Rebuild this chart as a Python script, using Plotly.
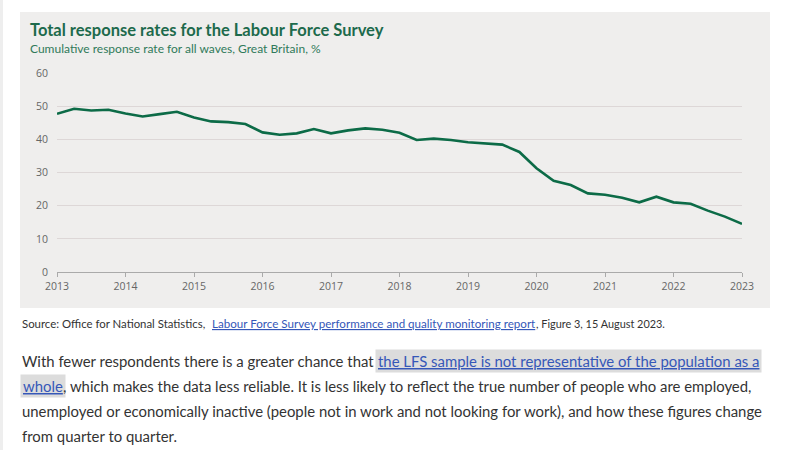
import plotly.graph_objects as go

# ---- data ----
quarters = [2013 + 0.25 * i for i in range(41)]
response_rate = [47.7, 49.2, 48.7, 48.9, 47.8, 46.9, 47.6, 48.3,
                 46.6, 45.4, 45.2, 44.6, 42.1, 41.4, 41.8, 43.1,
                 41.8, 42.7, 43.3, 42.9, 42.0, 39.8, 40.2, 39.8,
                 39.1, 38.7, 38.4, 36.2, 31.3, 27.5, 26.2, 23.7,
                 23.3, 22.4, 21.0, 22.7, 21.0, 20.6, 18.5, 16.7, 14.5]
year_ticks = list(range(2013, 2024))
y_ticks = [0, 10, 20, 30, 40, 50, 60]

W, H = 790, 450
L, R, T, B = 57, 742, 73, 272  # plot area in pixels

def px(x):
    return (x - L) / (R - L)

def py(y):
    return (B - y) / (B - T)

GREEN = "#0c6b47"
TITLE_GREEN = "#1d6a4c"
FONT = "Lato"

fig = go.Figure()
fig.add_trace(go.Scatter(x=quarters, y=response_rate, mode="lines",
                         line=dict(color=GREEN, width=2.6), hoverinfo="skip"))

fig.update_layout(
    width=W, height=H,
    margin=dict(l=L, r=W - R, t=T, b=H - B),
    paper_bgcolor="white", plot_bgcolor="#efeeed",
    showlegend=False,
    font=dict(family="Open Sans", color="#666"),
    xaxis=dict(range=[2013, 2023], tickvals=year_ticks, ticktext=[str(y) for y in year_ticks],
               showgrid=False, zeroline=False, showline=True, linecolor="#aaa", linewidth=1,
               ticks="outside", ticklen=4, tickcolor="#aaa", tickfont=dict(size=10.5, color="#666")),
    yaxis=dict(range=[0, 60], tickvals=y_ticks, showgrid=True, gridcolor="#ddd7d7", gridwidth=1,
               zeroline=False, showline=False, ticks="", ticklabelstandoff=8,
               tickfont=dict(size=10.5, color="#666")),
)

shapes = [
    # grey panel behind chart
    dict(type="rect", xref="paper", yref="paper", layer="below",
         x0=px(20), x1=px(770), y0=py(308), y1=py(12),
         fillcolor="#efeeed", line=dict(width=0)),
    # thin left strip
    dict(type="rect", xref="paper", yref="paper", layer="below",
         x0=px(0), x1=px(3), y0=py(450), y1=py(0),
         fillcolor="#eeeeee", line=dict(width=0)),
]
fig.update_layout(shapes=shapes)

def ann(text, x, y, size, color, xanchor="left", bold=False, under=False, bg=None, family=FONT):
    d = dict(text=("<b>%s</b>" % text) if bold else text, x=px(x), y=py(y),
             xref="paper", yref="paper", xanchor=xanchor, yanchor="middle",
             showarrow=False, font=dict(family=family, size=size, color=color))
    if under:
        d["font"]["lineposition"] = "under"
    if bg:
        d["bgcolor"] = bg
        d["borderpad"] = 2
    fig.add_annotation(**d)

ann("Total response rates for the Labour Force Survey", 28, 30, 16.5, TITLE_GREEN, bold=True)
ann("Cumulative response rate for all waves, Great Britain, %", 28, 48, 12, "#2f7a5a")

ann("Source: Office for National Statistics,", 20, 323, 11.4, "#333")
ann("Labour Force Survey performance and quality monitoring report", 210, 323, 11.6, "#3557b8", under=True)
ann(", Figure 3, 15 August 2023.", 534, 323, 10.9, "#333")

BODY = "#333"
LINK = "#3557b8"
BS = 14.9
ann("With fewer respondents there is a greater chance that", 20, 361, BS, BODY)
ann("the LFS sample is not representative of the population as a", 568, 361, BS, LINK,
    xanchor="center", under=True, bg="#dcdcdc")
ann("whole", 20, 386, BS, LINK, under=True, bg="#dcdcdc")
ann(", which makes the data less reliable. It is less likely to reflect the true number of people who are employed,", 61, 386, BS, BODY)
ann("unemployed or economically inactive (people not in work and not looking for work), and how these figures change", 20, 411, BS, BODY)
ann("from quarter to quarter.", 20, 436, BS, BODY)

fig.write_html("out.html", config={"displayModeBar": False},
               post_script="document.body.style.margin='0';document.body.style.overflow='hidden';")
